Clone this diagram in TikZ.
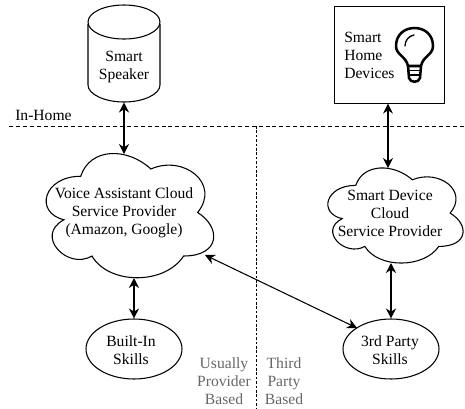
\documentclass[tikz,border=0pt]{standalone}
\usepackage{fontspec}
\setmainfont{Liberation Serif}
\usetikzlibrary{arrows.meta,shapes.geometric}
\newcommand{\cloudshape}[4]{% x0,y0,w,h
  \begin{scope}[shift={(#1,#2)},x=#3*.75pt,y=-#4*.75pt]
  \draw[line width=.8pt,fill=white] (.25,.25) .. controls (.05,.25) and (0,.5) .. (.16,.55)
    .. controls (0,.66) and (.18,.9) .. (.31,.8)
    .. controls (.4,1) and (.7,1) .. (.8,.8)
    .. controls (1,.8) and (1,.6) .. (.875,.5)
    .. controls (1,.3) and (.8,.1) .. (.625,.2)
    .. controls (.5,.05) and (.3,.05) .. (.25,.25) -- cycle;
  \end{scope}}
\tikzset{
  x=.75pt,y=-.75pt,
  every node/.style={font=\fontsize{11.7pt}{13.5pt}\selectfont,inner sep=0pt,align=center},
  shapeline/.style={draw=black,line width=.8pt},
  link/.style={line width=.8pt,{Stealth[length=7.5pt,width=7.5pt]}-{Stealth[length=7.5pt,width=7.5pt]}},
  divider/.style={line width=.7pt,dash pattern=on 3pt off 2.2pt},
  fine divider/.style={line width=.7pt,dash pattern=on 2pt off 1.3pt},
  graytext/.style={text=black!60},
}
\begin{document}
\begin{tikzpicture}
\useasboundingbox (0,0) rectangle (465,408);
\draw[divider] (9,126) -- (465,126);
\draw[fine divider] (256,126) -- (256,408);
\node[anchor=west] (inhome) at (15,115) {In-Home};
% speaker
\draw[shapeline,fill=white] (88,24) -- (88,85) .. controls (88,94) and (104,102) .. (124,102) .. controls (144,102) and (160,94) .. (160,85) -- (160,24);
\draw[shapeline,fill=white] (124,22) ellipse[x radius=36,y radius=17];
\node (speaker) at (124,67) {Smart\\Speaker};
\coordinate (speakerb) at (124,102.5);
% devices
\node[shapeline,minimum width=82.5pt,minimum height=72.75pt,anchor=north west] (devbox) at (333.5,5.5) {};
\node[align=left,anchor=west] (devices) at (344,55) {Smart\\Home\\Devices};
\begin{scope}[line width=1.9pt,line join=round,line cap=round]
\draw (408,66) .. controls (406,56) and (396,55) .. (396,46) .. controls (396,35) and (404,28) .. (414.5,28) .. controls (425,28) and (433,35) .. (433,46) .. controls (433,55) and (423,56) .. (421,66) -- cycle;
\draw[line width=1pt] (405,46) .. controls (405,40) and (409,36) .. (414,35);
\draw (408,66) -- (409,78) .. controls (410,83) and (419,83) .. (420,78) -- (421,66);
\draw[line width=1.1pt] (408.5,70.5) -- (420.5,70.5) (409,75) -- (420,75);
\end{scope}
% clouds
\cloudshape{34}{140}{187}{145}
\node (va) at (124,213) {Voice Assistant Cloud\\Service Provider\\(Amazon, Google)};
\cloudshape{318}{157.6}{151}{111}
\node (sd) at (390,213) {Smart Device\\Cloud\\Service Provider};
\coordinate (vatop) at (124,154);
\coordinate (vabot) at (134,278);
\coordinate (vadiag) at (205,255);
\coordinate (sdtop) at (388,168);
\coordinate (sdbot) at (391,263);
% skills
\node[shapeline,ellipse,minimum width=72pt,minimum height=45pt] (builtin) at (134,349) {};
\node at (131,350) {Built-In\\Skills};
\node[shapeline,ellipse,minimum width=72pt,minimum height=45pt] (third) at (391,349) {};
\node at (390,350) {3rd Party\\Skills};
\coordinate (thirdd) at (357,328);
% gray labels
\node[graytext] (usual) at (224,381) {Usually\\Provider\\Based};
\node[graytext] (tpb) at (284,381) {Third\\Party\\Based};
% connectors
\draw[link] (speakerb) -- (vatop);
\draw[link] (devbox.south -| sdtop) -- (sdtop);
\draw[link] (vabot) -- (builtin.north);
\draw[link] (sdbot) -- (third.north);
\draw[link] (vadiag) -- (thirdd);
\end{tikzpicture}
\end{document}
